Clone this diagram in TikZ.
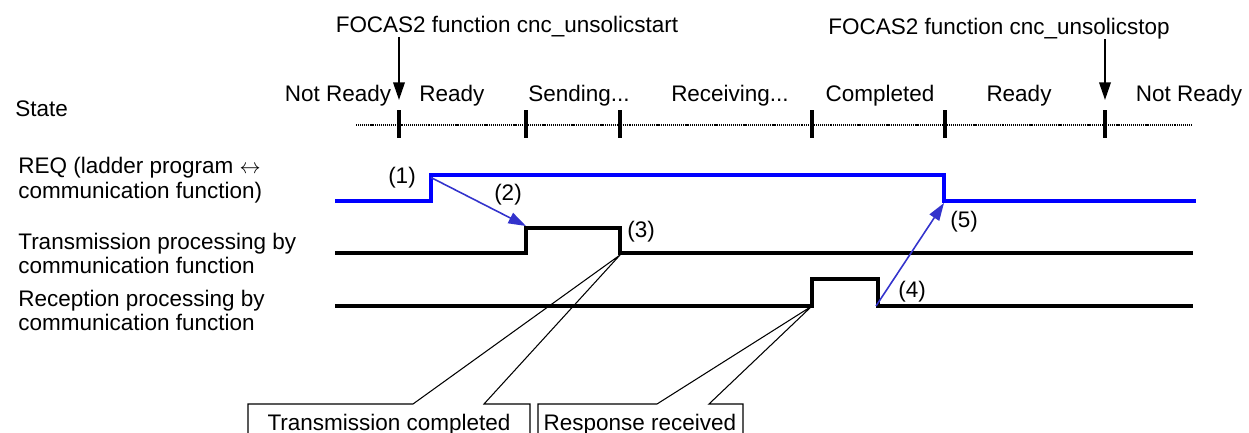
\documentclass[tikz,border=0pt]{standalone}
\usepackage{fontspec}
\setmainfont{Liberation Sans}
\usetikzlibrary{arrows.meta}
\definecolor{arrblue}{RGB}{51,51,204}
\tikzset{
  txt/.style={font=\fontsize{12.8}{14}\selectfont, inner sep=0pt},
  sig/.style={line width=2.3pt},
  reqsig/.style={line width=2.8pt, blue},
  dotline/.style={line width=0.7pt, dash pattern=on 0.6pt off 0.5pt},
  statetick/.style={line width=2.3pt},
  callarrow/.style={-{Triangle[length=10pt,width=6.5pt]}, line width=1.2pt},
  evarrow/.style={-{Triangle[length=10pt,width=6.5pt]}, line width=0.9pt, arrblue},
  callout/.style={line width=0.6pt},
}
\begin{document}
\begin{tikzpicture}[x=0.02cm, y=-0.02cm]
  \useasboundingbox (0,0) rectangle (1249,433);
  % 左側のラベル
  \node[txt, anchor=base west] (state) at (15,116) {State};
  \node[txt, anchor=base west] (req1) at (18,173) {REQ (ladder program $\leftrightarrow$};
  \node[txt, anchor=base west] (req2) at (18,198) {communication function)};
  \node[txt, anchor=base west] (tx1) at (18,249) {Transmission processing by};
  \node[txt, anchor=base west] (tx2) at (18,273) {communication function};
  \node[txt, anchor=base west] (rx1) at (18,306) {Reception processing by};
  \node[txt, anchor=base west] (rx2) at (18,330) {communication function};
  % 状態
  \draw[dotline] (356,125) -- (1191,125);
  \foreach \x/\n in {399/t1, 526/t2, 620/t3, 812/t4, 945/t5, 1105/t6}
    \draw[statetick] (\x,110) coordinate (\n) -- (\x,138);
  \foreach \x/\s [count=\i] in {338/{Not Ready}, 452/{Ready}, 579/{Sending...}, 730/{Receiving...},
      880/{Completed}, 1019/{Ready}, 1189/{Not Ready}}
    \node[txt, anchor=base] (st\i) at (\x,101) {\s};
  % FOCAS2 関数
  \node[txt, anchor=base] (fstart) at (507,32) {FOCAS2 function cnc\_unsolicstart};
  \node[txt, anchor=base] (fstop) at (999,34) {FOCAS2 function cnc\_unsolicstop};
  \draw[callarrow] (fstart.south -| t1) -- ([yshift=0.2cm]t1);
  \draw[callarrow] (fstop.south -| t6) -- ([yshift=0.2cm]t6);
  % 信号
  \draw[reqsig] (335,201) -- (431,201) -- (431,175) coordinate (reqUp) -- (944,175)
    -- (944,201) coordinate (reqDown) -- (1196,201);
  \draw[sig] (335,253) -- (526,253) -- (526,228) coordinate (txUp) -- (620,228)
    -- (620,253) coordinate (txDown) -- (1193,253);
  \draw[sig] (335,306) -- (812,306) coordinate (rxUp) -- (812,279) -- (878,279)
    -- (878,306) coordinate (rxDown) -- (1193,306);
  % 番号
  \node[txt] (n1) at (402,178) {(1)};
  \node[txt] (n2) at (508,195) {(2)};
  \node[txt] (n3) at (641,232) {(3)};
  \node[txt] (n4) at (912,292) {(4)};
  \node[txt] (n5) at (964,222) {(5)};
  \draw[evarrow] ([yshift=-0.05cm]reqUp) -- ([yshift=0.04cm]txUp);
  \draw[evarrow] ([xshift=-0.04cm]rxDown) -- ([yshift=-0.04cm]reqDown);
  % 吹き出し
  \node[txt, anchor=base] (txdone) at (389,430) {Transmission completed};
  \node[txt, anchor=base] (rsprcv) at (640,430) {Response received};
  \draw[callout] (248,433) -- (248,404) -- (413,404) -- ([yshift=-0.04cm]txDown)
    -- (484,404) -- (530,404) -- (530,433);
  \draw[callout] (538,433) -- (538,404) -- (657,404) -- (rxUp)
    -- (709,404) -- (743,404) -- (743,433);
\end{tikzpicture}
\end{document}
